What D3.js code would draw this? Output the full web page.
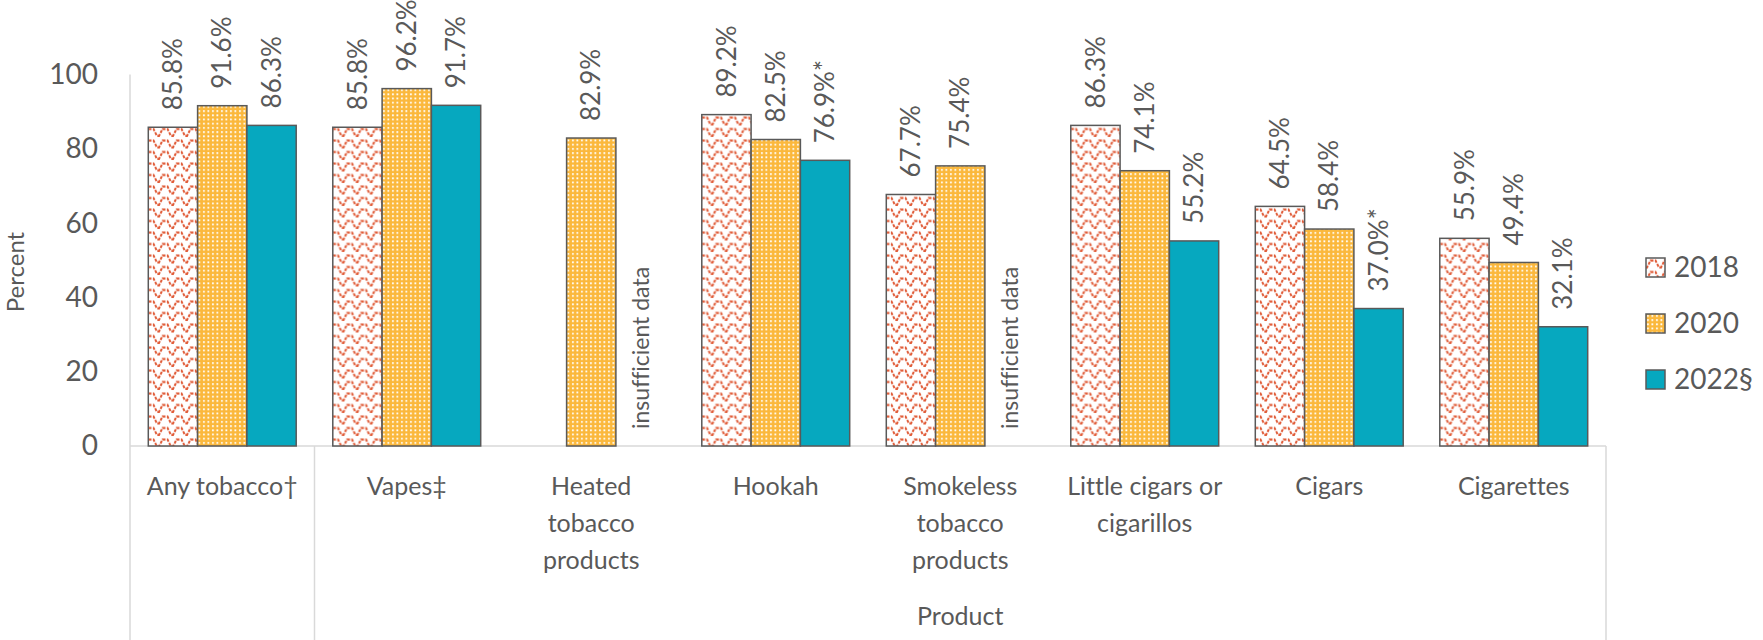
<!DOCTYPE html>
<html>
<head>
<meta charset="utf-8">
<script src="https://cdn.jsdelivr.net/npm/d3@7"></script>
<style>
  html, body { margin: 0; padding: 0; background: #fff; }
  svg { display: block; font-family: Lato, "Noto Sans", sans-serif; font-variant-ligatures: none; }
</style>
</head>
<body>
<div id="chart"></div>
<script>
'use strict';

// ---- data ----
var categories = ['Any tobacco†', 'Vapes‡', 'Heated tobacco products', 'Hookah',
  'Smokeless tobacco products', 'Little cigars or cigarillos', 'Cigars', 'Cigarettes'];
var categoryLines = [['Any tobacco†'], ['Vapes‡'], ['Heated', 'tobacco', 'products'], ['Hookah'],
  ['Smokeless', 'tobacco', 'products'], ['Little cigars or', 'cigarillos'], ['Cigars'], ['Cigarettes']];
var years = ['2018', '2020', '2022§'];
var values2018 = [85.8, 85.8, null, 89.2, 67.7, 86.3, 64.5, 55.9];
var values2020 = [91.6, 96.2, 82.9, 82.5, 75.4, 74.1, 58.4, 49.4];
var values2022 = [86.3, 91.7, null, 76.9, null, 55.2, 37.0, 32.1];
// extra text appended to / replacing the 2022 labels
var notes2022 = ['', '', 'insufficient data', '*', 'insufficient data', '', '*', ''];
var yTicks = [0, 20, 40, 60, 80, 100];
var groupLabel = 'Product';
var axisTitle = 'Percent';

var W = 1763, H = 640;
var plotLeft = 130, plotRight = 1606, plotTop = 74.5, plotBottom = 446;
var textColor = '#595959', lineColor = '#d9d9d9', barStroke = '#595959';

var svg = d3.select('#chart').append('svg')
  .attr('width', W).attr('height', H);

// patterns
var defs = svg.append('defs');
var wave = defs.append('pattern').attr('id', 'p2018')
  .attr('patternUnits', 'userSpaceOnUse').attr('width', 14).attr('height', 11.5);
wave.append('rect').attr('width', 14).attr('height', 11.5).attr('fill', '#fff');
wave.append('path')
  .attr('d', 'M0,9.5 L1,9.5 L4.5,2.5 L9.5,2.5 L13,9.5 L14,9.5')
  .attr('fill', 'none').attr('stroke', '#e05a36').attr('stroke-width', 2)
  .attr('stroke-dasharray', '3,1.4');

var dots = defs.append('pattern').attr('id', 'p2020')
  .attr('patternUnits', 'userSpaceOnUse').attr('width', 4.5).attr('height', 4.2);
dots.append('rect').attr('width', 4.5).attr('height', 4.2).attr('fill', '#fbb83c');
dots.append('rect').attr('x', 1).attr('y', 1).attr('width', 1.8).attr('height', 1.8).attr('fill', '#fff');

var fills = ['url(#p2018)', 'url(#p2020)', '#06a8bf'];

// scales
var x0 = d3.scaleBand().domain(categories).range([plotLeft, plotRight]).padding(0);
var x1 = d3.scaleBand().domain(years).range([0, x0.bandwidth()]).paddingInner(0).paddingOuter(0.371);
var y = d3.scaleLinear().domain([0, 100]).range([plotBottom, plotTop]);

var seriesValues = [values2018, values2020, values2022];
var rows = [];
categories.forEach(function(c, i) {
  years.forEach(function(yr, j) {
    var v = seriesValues[j][i];
    var label = null;
    if (v != null) {
      label = v.toFixed(1) + '%' + (j === 2 ? notes2022[i] : '');
    } else if (j === 2 && notes2022[i]) {
      label = notes2022[i];
    }
    rows.push({cat: c, year: yr, s: j, value: v, label: label});
  });
});

// axis lines
svg.append('line').attr('x1', plotLeft).attr('x2', plotLeft).attr('y1', plotTop).attr('y2', H)
  .attr('stroke', lineColor).attr('stroke-width', 1.5);
svg.append('line').attr('x1', plotLeft).attr('x2', plotRight).attr('y1', plotBottom).attr('y2', plotBottom)
  .attr('stroke', lineColor).attr('stroke-width', 1.5);
[x0(categories[1]), plotRight].forEach(function(xx) {
  svg.append('line').attr('x1', xx).attr('x2', xx).attr('y1', plotBottom).attr('y2', H)
    .attr('stroke', lineColor).attr('stroke-width', 1.5);
});

// y axis labels
var yAxis = svg.append('g').attr('transform', 'translate(' + plotLeft + ',0)')
  .call(d3.axisLeft(y).tickValues(yTicks).tickSize(0).tickPadding(32));
yAxis.select('.domain').remove();
yAxis.selectAll('text').attr('font-size', 28).attr('fill', textColor)
  .style('font-family', 'Lato, sans-serif');

svg.append('text')
  .attr('transform', 'translate(16,272) rotate(-90)')
  .attr('text-anchor', 'middle').attr('dy', '0.35em')
  .attr('font-size', 24).attr('fill', textColor)
  .text(axisTitle);

// bars
var groups = svg.selectAll('.cat')
  .data(categories)
  .enter().append('g')
  .attr('class', 'cat')
  .attr('transform', function(d) { return 'translate(' + x0(d) + ',0)'; });

groups.selectAll('.bar')
  .data(function(d) { return rows.filter(function(r) { return r.cat === d && r.value != null; }); })
  .enter().append('rect')
    .attr('class', 'bar')
    .attr('x', function(d) { return x1(d.year); })
    .attr('width', x1.bandwidth())
    .attr('y', function(d) { return y(d.value); })
    .attr('height', function(d) { return y(0) - y(d.value); })
    .attr('fill', function(d) { return fills[d.s]; })
    .attr('stroke', barStroke).attr('stroke-width', 1.5);

groups.selectAll('.lbl')
  .data(function(d) { return rows.filter(function(r) { return r.cat === d && r.label; }); })
  .enter().append('text')
    .attr('class', 'lbl')
    .attr('transform', function(d) {
      var cx = x1(d.year) + x1.bandwidth() / 2;
      var cy = y(d.value || 0) - 17;
      return 'translate(' + cx + ',' + cy + ') rotate(-90)';
    })
    .attr('dy', '0.35em')
    .attr('font-size', function(d) { return d.value == null ? 23 : 26; })
    .attr('fill', textColor)
    .text(function(d) { return d.label; });

// category labels
groups.append('text')
  .attr('text-anchor', 'middle')
  .attr('font-size', 25).attr('fill', textColor)
  .selectAll('tspan')
  .data(function(d, i) { return categoryLines[i]; })
  .enter().append('tspan')
    .attr('x', x0.bandwidth() / 2)
    .attr('y', function(d, i) { return 495 + i * 37; })
    .text(function(d) { return d; });

svg.append('text')
  .attr('x', (x0(categories[1]) + plotRight) / 2).attr('y', 616)
  .attr('dy', '0.35em').attr('text-anchor', 'middle')
  .attr('font-size', 25).attr('fill', textColor)
  .text(groupLabel);

// legend
var legend = svg.selectAll('.leg')
  .data(years)
  .enter().append('g')
  .attr('class', 'leg')
  .attr('transform', function(d, i) { return 'translate(1646,' + (258 + i * 56) + ')'; });
legend.append('rect')
  .attr('width', 19).attr('height', 19)
  .attr('fill', function(d, i) { return fills[i]; })
  .attr('stroke', barStroke).attr('stroke-width', 1.5);
legend.append('text')
  .attr('x', 28).attr('y', 9.5).attr('dy', '0.35em')
  .attr('font-size', 28).attr('fill', textColor)
  .text(function(d) { return d; });
</script>
</body>
</html>
